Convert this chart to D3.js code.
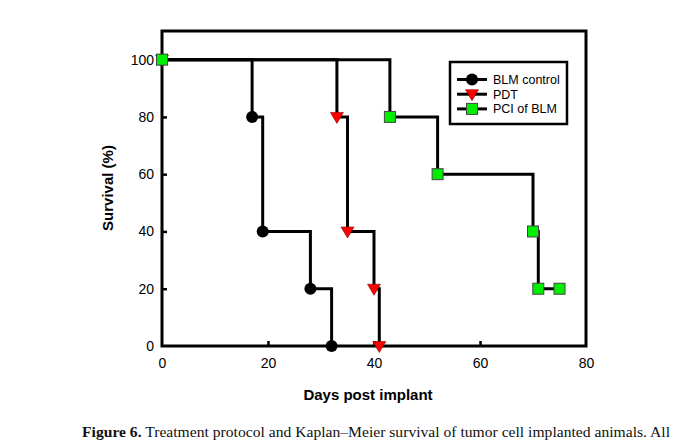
<!DOCTYPE html>
<html><head><meta charset="utf-8">
<script src="https://cdn.jsdelivr.net/npm/d3@7"></script>
<style>body{margin:0;background:#fff}svg{display:block}</style>
</head><body>
<script>
const xTicks = [0, 20, 40, 60, 80];
const yTicks = [0, 20, 40, 60, 80, 100];
const blmDays = [0, 17, 19, 28, 32];
const blmSurv = [100, 80, 40, 20, 0];
const pdtDays = [0, 33, 35, 40, 41];
const pdtSurv = [100, 80, 40, 20, 0];
const pciDays = [0, 43, 52, 70, 71, 75];
const pciSurv = [100, 80, 60, 40, 20, 20];
const seriesNames = ["BLM control", "PDT", "PCI of BLM"];

const W = 690, H = 443;
const svg = d3.select("body").append("svg").attr("width", W).attr("height", H);
const x = d3.scaleLinear().domain([0, 80]).range([162, 586]);
const y = d3.scaleLinear().domain([0, 110]).range([346, 31]);

const zip = (a, b) => a.map((d, i) => ({x: d, y: b[i]}));
const series = [
  {name: seriesNames[0], data: zip(blmDays, blmSurv), shape: "circle"},
  {name: seriesNames[1], data: zip(pdtDays, pdtSurv), shape: "tri"},
  {name: seriesNames[2], data: zip(pciDays, pciSurv), shape: "square"}
];

// frame
svg.append("rect").attr("x", x(0)).attr("y", y(110)).attr("width", x(80) - x(0)).attr("height", y(0) - y(110))
  .attr("fill", "none").attr("stroke", "#000").attr("stroke-width", 3);

// axes (inside ticks)
const gx = svg.append("g").attr("transform", `translate(0,${y(0)})`)
  .call(d3.axisBottom(x).tickValues(xTicks).tickSize(-5).tickPadding(12));
const gy = svg.append("g").attr("transform", `translate(${x(0)},0)`)
  .call(d3.axisLeft(y).tickValues(yTicks).tickSize(-5).tickPadding(8));
[gx, gy].forEach(g => {
  g.select(".domain").remove();
  g.selectAll("line").attr("stroke", "#000").attr("stroke-width", 2.5);
  g.selectAll("text").attr("font-family", "Liberation Sans, Arial, sans-serif").attr("font-size", 14).attr("fill", "#000");
});
gx.selectAll(".tick").filter(d => d === 0 || d === 80).select("line").remove();
gy.selectAll(".tick").filter(d => d === 0).select("line").remove();

// lines
const line = d3.line().x(d => x(d.x)).y(d => y(d.y)).curve(d3.curveStepAfter);
series.slice().reverse().forEach(s => {
  svg.append("path").datum(s.data).attr("d", line).attr("fill", "none")
    .attr("stroke", "#000").attr("stroke-width", 3).attr("stroke-linejoin", "miter");
});

function marker(g, shape, cx, cy) {
  if (shape === "circle") {
    g.append("circle").attr("cx", cx).attr("cy", cy).attr("r", 6).attr("fill", "#000");
  } else if (shape === "tri") {
    g.append("path").attr("d", `M${cx - 6.5},${cy - 4.5}L${cx + 6.5},${cy - 4.5}L${cx},${cy + 6.5}Z`)
      .attr("fill", "#ff0000").attr("stroke", "#800000").attr("stroke-width", 0.6);
  } else {
    g.append("rect").attr("x", cx - 5.5).attr("y", cy - 5.5).attr("width", 11).attr("height", 11)
      .attr("fill", "#00ee00").attr("stroke", "#444").attr("stroke-width", 1);
  }
}
const mg = svg.append("g");
series.forEach(s => s.data.forEach(d => marker(mg, s.shape, x(d.x), y(d.y))));

// legend
const lg = svg.append("g");
lg.append("rect").attr("x", 450).attr("y", 62).attr("width", 117).attr("height", 62)
  .attr("fill", "#fff").attr("stroke", "#000").attr("stroke-width", 2.5);
series.forEach((s, i) => {
  const yy = 79.5 + i * 14.7;
  lg.append("line").attr("x1", 457).attr("x2", 487).attr("y1", yy).attr("y2", yy).attr("stroke", "#000").attr("stroke-width", 3);
  marker(lg, s.shape, 472, yy);
  lg.append("text").attr("x", 493).attr("y", yy + 4.5).text(s.name)
    .attr("font-family", "Liberation Sans, Arial, sans-serif").attr("font-size", 12.5).attr("fill", "#000");
});

// axis titles
svg.append("text").attr("x", 368).attr("y", 400).attr("text-anchor", "middle").text("Days post implant")
  .attr("font-family", "Liberation Sans, Arial, sans-serif").attr("font-weight", "bold").attr("font-size", 15).attr("fill", "#000");
svg.append("text").attr("transform", "translate(113,188) rotate(-90)").attr("text-anchor", "middle").text("Survival (%)")
  .attr("font-family", "Liberation Sans, Arial, sans-serif").attr("font-weight", "bold").attr("font-size", 15).attr("fill", "#000");

// caption
const cap = svg.append("text").attr("x", 82).attr("y", 437)
  .attr("font-family", "Liberation Serif, Times New Roman, serif").attr("font-size", 15).attr("fill", "#111")
  .attr("textLength", 588).attr("lengthAdjust", "spacingAndGlyphs");
cap.append("tspan").attr("font-weight", "bold").text("Figure 6.");
cap.append("tspan").text(" Treatment protocol and Kaplan\u2013Meier survival of tumor cell implanted animals. All");
</script>
</body></html>
